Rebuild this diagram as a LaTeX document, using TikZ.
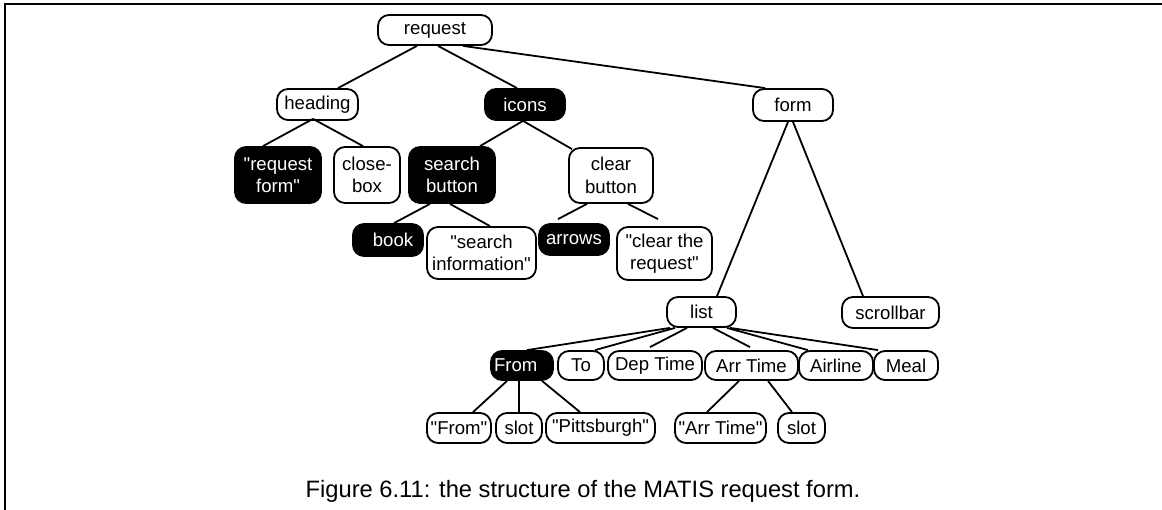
\documentclass[tikz,border=0pt]{standalone}
\usepackage{fontspec}
\setmainfont{Liberation Sans}[Ligatures=TeXOff]
\newcommand\nodefont{\fontsize{18.6}{22.3}\selectfont}
\newcommand\capfont{\fontsize{23.7}{28}\selectfont}
\tikzset{
  box/.style={draw, line width=1.8pt, rounded corners=11pt, fill=white, text=black,
              inner sep=0pt, align=center, font=\nodefont},
  dark/.style={box, fill=black, text=white},
  wh/.style n args={2}{minimum width=#1pt, minimum height=#2pt},
  link/.style={line width=1.8pt},
  frame/.style={line width=1.6pt},
}
\begin{document}
\begin{tikzpicture}[x=1pt, y=-1pt]
\useasboundingbox (0,0) rectangle (1162,510);
\coordinate (fa) at (1162,4);
\coordinate (fb) at (5,4);
\coordinate (fc) at (5,510);
\draw[frame] (fa) -- (fb) -- (fc);

% level 0-1
\node[box, wh={114}{30}] (request) at (435,30) {request};
\node[box, wh={81}{31}] (heading) at (317.5,104.5) {heading};
\node[dark, wh={80}{31}] (icons) at (525,104.5) {icons};
\node[box, wh={80}{32}] (form) at (793,105) {form};

% level 2
\node[dark, wh={86}{56}] (reqform) at (278,175) {"request\\form"};
\node[box, wh={66}{56}] (closebox) at (367,175) {close-\\box};
\node[dark, wh={86}{56}] (search) at (452,175) {search\\button};
\node[box, wh={84}{55}] (clear) at (611,175.5) {clear\\button};

% level 3
\node[dark, wh={70}{32}] (book) at (388,240) {\hspace*{10pt}book};
\node[box, wh={109}{52}] (sinfo) at (481.5,253) {"search\\information"};
\node[dark, wh={70}{31}] (arrows) at (574,239.5) {arrows};
\node[box, wh={95}{53}] (creq) at (664.5,253.5) {"clear the\\request"};

% list level
\node[box, wh={69}{30}] (list) at (701.5,312) {list};
\node[box, wh={97}{31}] (scroll) at (890.5,312.5) {scrollbar};

\node[dark, wh={62}{29}, text width=56pt, inner xsep=3pt, align=left] (from) at (522,365.5) {From};
\node[box, wh={46}{29}] (to) at (581,365.5) {To};
\node[box, wh={94}{29}] (dep) at (655,365.5) {Dep Time};
\node[box, wh={93}{29}] (arr) at (751.5,365.5) {Arr Time};
\node[box, wh={74}{29}] (airline) at (836,365.5) {Airline};
\node[box, wh={64}{29}] (meal) at (906,365.5) {Meal};

\node[box, wh={64}{30}] (qfrom) at (459,428) {"From"};
\node[box, wh={46}{30}] (slota) at (519,428) {slot};
\node[box, wh={109}{30}] (pitt) at (600.5,428) {"Pittsburgh"};
\node[box, wh={91}{30}] (qarr) at (720.5,428) {"Arr Time"};
\node[box, wh={47}{30}] (slotb) at (801.5,428) {slot};

% connectors
\draw[link] ([xshift=-18pt]request.south) -- ([xshift=20.5pt]heading.north);
\draw[link] ([xshift=3pt]request.south) -- ([xshift=-8pt]icons.north);
\draw[link] ([xshift=28pt]request.south) -- ([xshift=-28pt]form.north);

\draw[link] ([xshift=-4.5pt,yshift=2pt]heading.south) -- ([xshift=-15pt]reqform.north);
\draw[link] ([xshift=-4.5pt,yshift=2pt]heading.south) -- ([xshift=-4pt]closebox.north);

\draw[link] ([xshift=-2pt]icons.south) -- ([xshift=28pt]search.north);
\draw[link] ([xshift=-2pt]icons.south) -- ([xshift=-39pt,yshift=-2pt]clear.north);

\draw[link] ([xshift=-22pt]search.south) -- ([xshift=6pt]book.north);
\draw[link] ([xshift=-2pt]search.south) -- ([xshift=8.5pt]sinfo.north);

\draw[link] ([xshift=-24pt]clear.south) -- ([xshift=-16pt,yshift=4pt]arrows.north);
\draw[link] ([xshift=17pt]clear.south) -- ([xshift=-6.5pt,yshift=7pt]creq.north);

\draw[link] ([xshift=-5pt]form.south) -- ([xshift=15.5pt]list.north);
\draw[link] (form.south) -- ([xshift=-27.5pt]scroll.north);

\draw[link] ([xshift=-31.5pt]list.south) -- ([xshift=5pt]from.north);
\draw[link] ([xshift=-26.5pt]list.south) -- ([xshift=14pt]to.north);
\draw[link] ([xshift=-14.5pt]list.south) -- ([xshift=-5pt,yshift=3pt]dep.north);
\draw[link] ([xshift=11.5pt]list.south) -- ([xshift=-1.5pt,yshift=3pt]arr.north);
\draw[link] ([xshift=25.5pt]list.south) -- ([xshift=-28pt]airline.north);
\draw[link] ([xshift=28.5pt]list.south) -- ([xshift=-28pt]meal.north);

\draw[link] ([xshift=-15pt]from.south) -- ([xshift=14pt]qfrom.north);
\draw[link] ([xshift=-3pt]from.south) -- (slota.north);
\draw[link] ([xshift=20pt]from.south) -- ([xshift=-20.5pt]pitt.north);

\draw[link] ([xshift=-12.5pt]arr.south) -- ([xshift=-13.5pt]qarr.north);
\draw[link] ([xshift=16.5pt]arr.south) -- ([xshift=-9.5pt]slotb.north);

\node[font=\capfont, anchor=base, inner sep=0pt] (caption) at (583,497)
  {Figure 6.11: the structure of the MATIS request form.};
\end{tikzpicture}
\end{document}
